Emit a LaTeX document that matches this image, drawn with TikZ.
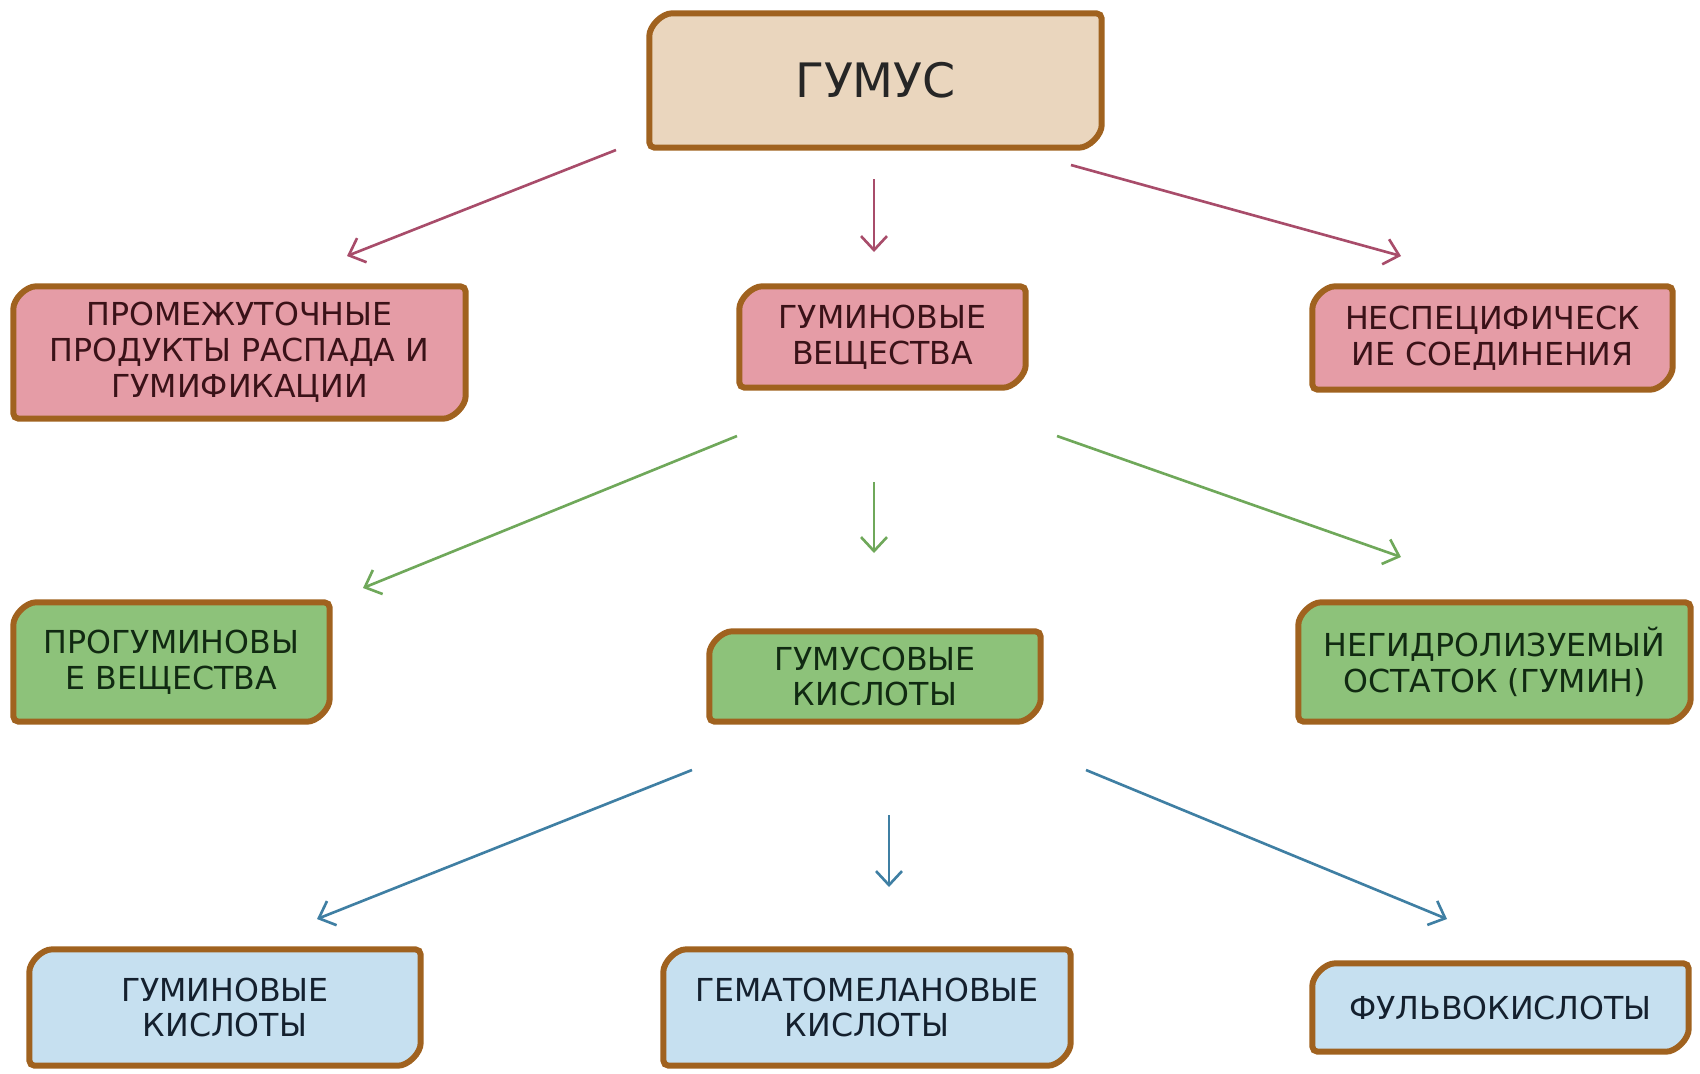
\documentclass[tikz,border=0pt]{standalone}
\usepackage{fontspec}
\setmainfont{DejaVu Sans}
\usetikzlibrary{arrows.meta,positioning,backgrounds}
\definecolor{Brown}{HTML}{A0621F}
\definecolor{Tan}{HTML}{EAD6BE}
\definecolor{Rose}{HTML}{E59CA6}
\definecolor{Leaf}{HTML}{8DC27A}
\definecolor{Sky}{HTML}{C6E0F0}
\definecolor{Wine}{HTML}{A84C6A}
\definecolor{Grass}{HTML}{6FA85A}
\definecolor{Steel}{HTML}{3F7FA3}
\definecolor{InkRose}{HTML}{3A1218}
\definecolor{InkLeaf}{HTML}{112A12}
\definecolor{InkSky}{HTML}{14202E}

\begin{document}
\begin{tikzpicture}[
    box/.style={inner sep=0pt,align=center,text=#1,
      font=\fontsize{9}{10.2}\selectfont},
    arr/.style={-{Straight Barb[length=1.4mm,width=2.6mm]},line width=0.75pt,#1}
  ]
    \useasboundingbox (0,0) rectangle (17,-10.73);
    \node[box=black!85,font=\fontsize{13.5}{16}\selectfont,minimum width=4.51cm,
      minimum height=1.33cm] (gumus) at (8.755,-0.805) {ГУМУС};
    % level 1
    \node[box=InkRose,minimum width=4.51cm,minimum height=1.31cm] (prom) at (2.395,-3.525)
      {ПРОМЕЖУТОЧНЫЕ\\ПРОДУКТЫ РАСПАДА И\\ГУМИФИКАЦИИ};
    \node[box=InkRose,minimum width=2.85cm,minimum height=1.0cm] (humsub) at (8.825,-3.37)
      {ГУМИНОВЫЕ\\ВЕЩЕСТВА};
    \node[box=InkRose,minimum width=3.59cm,minimum height=1.02cm] (nonspec) at (14.925,-3.38)
      {НЕСПЕЦИФИЧЕСК\\ИЕ СОЕДИНЕНИЯ};
    % level 2
    \node[box=InkLeaf,minimum width=3.15cm,minimum height=1.18cm] (progum) at (1.715,-6.62)
      {ПРОГУМИНОВЫ\\Е ВЕЩЕСТВА};
    \node[box=InkLeaf,minimum width=3.30cm,minimum height=0.89cm] (humacid) at (8.75,-6.765)
      {ГУМУСОВЫЕ\\КИСЛОТЫ};
    \node[box=InkLeaf,minimum width=3.91cm,minimum height=1.18cm] (nonhydr) at (14.945,-6.62)
      {НЕГИДРОЛИЗУЕМЫЙ\\ОСТАТОК (ГУМИН)};
    % level 3
    \node[box=InkSky,minimum width=3.90cm,minimum height=1.15cm] (huminacid) at (2.25,-10.075)
      {ГУМИНОВЫЕ\\КИСЛОТЫ};
    \node[box=InkSky,minimum width=4.06cm,minimum height=1.15cm] (hemato) at (8.67,-10.075)
      {ГЕМАТОМЕЛАНОВЫЕ\\КИСЛОТЫ};
    \node[box=InkSky,minimum width=3.75cm,minimum height=0.87cm] (fulvo) at (15.005,-10.075)
      {ФУЛЬВОКИСЛОТЫ};

    \begin{scope}[on background layer]
      \foreach \n/\c in {gumus/Tan,prom/Rose,humsub/Rose,nonspec/Rose,progum/Leaf,
          humacid/Leaf,nonhydr/Leaf,huminacid/Sky,hemato/Sky,fulvo/Sky}
        \draw[Brown,line width=1.7pt,fill=\c,rounded corners=1.5pt]
          (\n.south west) -- ([yshift=-8pt]\n.north west) arc[start angle=180,end angle=90,radius=8pt]
          -- (\n.north east) -- ([yshift=8pt]\n.south east) arc[start angle=0,end angle=-90,radius=8pt]
          -- cycle;
    \end{scope}

    % free ends of the arrows
    \coordinate (p1a) at (6.16,-1.50);  \coordinate (p1b) at (3.47,-2.56);
    \coordinate (p2a) at (8.74,-1.79);  \coordinate (p2b) at (8.74,-2.52);
    \coordinate (p3a) at (10.71,-1.65); \coordinate (p3b) at (14.01,-2.56);
    \coordinate (g1a) at (7.37,-4.36);  \coordinate (g1b) at (3.63,-5.88);
    \coordinate (g2a) at (8.74,-4.82);  \coordinate (g2b) at (8.74,-5.53);
    \coordinate (g3a) at (10.57,-4.36); \coordinate (g3b) at (14.01,-5.57);
    \coordinate (b1a) at (6.92,-7.70);  \coordinate (b1b) at (3.17,-9.19);
    \coordinate (b2a) at (8.89,-8.15);  \coordinate (b2b) at (8.89,-8.87);
    \coordinate (b3a) at (10.86,-7.70); \coordinate (b3b) at (14.47,-9.19);
    \foreach \a/\c in {p/Wine,g/Grass,b/Steel}
      \foreach \i in {1,2,3}\draw[arr=\c](\a\i a)--(\a\i b);
  \end{tikzpicture}
\end{document}
